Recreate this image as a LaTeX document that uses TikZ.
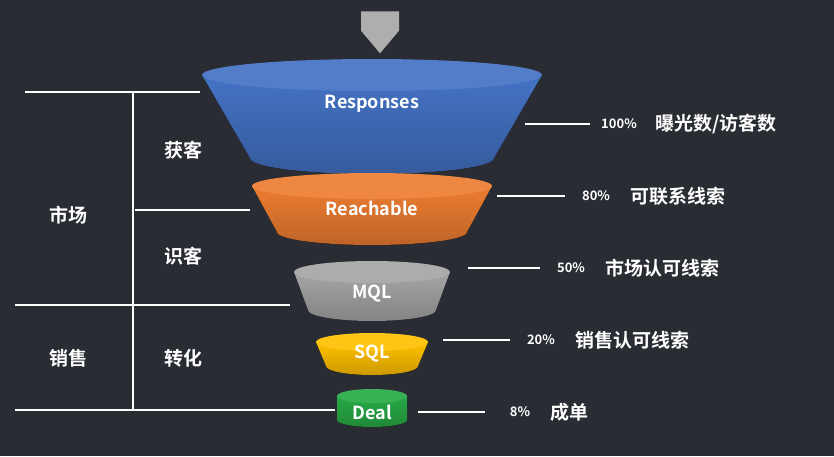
\documentclass[tikz,border=0pt]{standalone}
\usepackage{fontspec}
\setmainfont{Noto Sans CJK SC}[BoldFont={Noto Sans CJK SC Bold}]
\usetikzlibrary{shapes.arrows}
\definecolor{bgdark}{RGB}{41,44,51}
\definecolor{cblue}{RGB}{68,114,196}
\definecolor{corange}{RGB}{237,125,49}
\definecolor{cgray}{RGB}{165,165,165}
\definecolor{cyellow}{RGB}{255,192,0}
\definecolor{cgreen}{RGB}{40,170,70}
\tikzset{every picture/.style={line width=0.75pt},
  rule/.style={white, line width=1.6pt},
  lbl/.style={white, font=\bfseries\fontsize{19}{19}\selectfont, inner sep=0pt},
  pct/.style={white, font=\bfseries\fontsize{13}{13}\selectfont, inner sep=0pt},
  seg/.style={white, font=\bfseries\fontsize{18}{18}\selectfont, inner sep=0pt}}
% frustum: #1 cx, #2 top y, #3 top rx, #4 bottom y, #5 bottom rx, #6 ry, #7 colour
\newcommand{\funnelseg}[7]{%
  \fill[top color=#7, bottom color=#7!80!black] (#1-#3,#2) -- (#1-#5,#4) arc (180:0:#5 and #6) -- (#1+#3,#2) -- cycle;
  \fill[#7!92!white] (#1,#2) ellipse (#3 and #6);}

\begin{document}
\begin{tikzpicture}[x=1pt,y=1pt,yscale=-1,xscale=1]
\fill[bgdark] (0,0) rectangle (834,456);
\useasboundingbox (0,0) rectangle (834,456);

% arrow on top
\node[single arrow, fill=cgray!90!white, shape border rotate=270, minimum height=42pt, minimum width=38pt, single arrow head extend=0pt, single arrow tip angle=80, inner sep=0pt] (inarrow) at (380,21) {};

% funnel
\funnelseg{372}{75}{170}{158}{122}{16}{cblue}
\funnelseg{372}{186}{120}{232}{95}{13}{corange}
\funnelseg{372}{272}{78}{310}{64}{11}{cgray}
\funnelseg{372}{342}{56}{366}{46}{9}{cyellow}
\funnelseg{372}{396}{35}{420}{35}{7}{cgreen}

\node[seg] (resp) at (372,104) {Responses};
\node[seg] (reach) at (372,208) {Reachable};
\node[seg] (mql) at (372,294) {MQL};
\node[seg] (sql) at (372,354) {SQL};
\node[seg] (deal) at (372,412) {Deal};

% left brackets
\draw[rule] (25,92) -- (200,92);
\draw[rule] (135,210) -- (250,210);
\draw[rule] (15,305) -- (290,305);
\draw[rule] (15,410) -- (335,410);
\draw[rule] (133,92) -- (133,410);

\node[lbl] (market) at (68,215) {市场};
\node[lbl] (sales) at (68,358) {销售};
\node[lbl] (acq) at (183,150) {获客};
\node[lbl] (ident) at (183,256) {识客};
\node[lbl] (conv) at (183,358) {转化};

% right labels
\draw[rule] (525,124) -- (590,124);
\node[pct] (p1) at (619,124) {100\%};
\node[lbl, anchor=west] (t1) at (655,124) {曝光数/访客数};
\draw[rule] (497,196) -- (565,196);
\node[pct] (p2) at (596,196) {80\%};
\node[lbl, anchor=west] (t2) at (630,196) {可联系线索};
\draw[rule] (468,268) -- (540,268);
\node[pct] (p3) at (571,268) {50\%};
\node[lbl, anchor=west] (t3) at (605,268) {市场认可线索};
\draw[rule] (443,340) -- (510,340);
\node[pct] (p4) at (541,340) {20\%};
\node[lbl, anchor=west] (t4) at (575,340) {销售认可线索};
\draw[rule] (418,412) -- (485,412);
\node[pct] (p5) at (520,412) {8\%};
\node[lbl, anchor=west] (t5) at (550,412) {成单};
\end{tikzpicture}
\end{document}
